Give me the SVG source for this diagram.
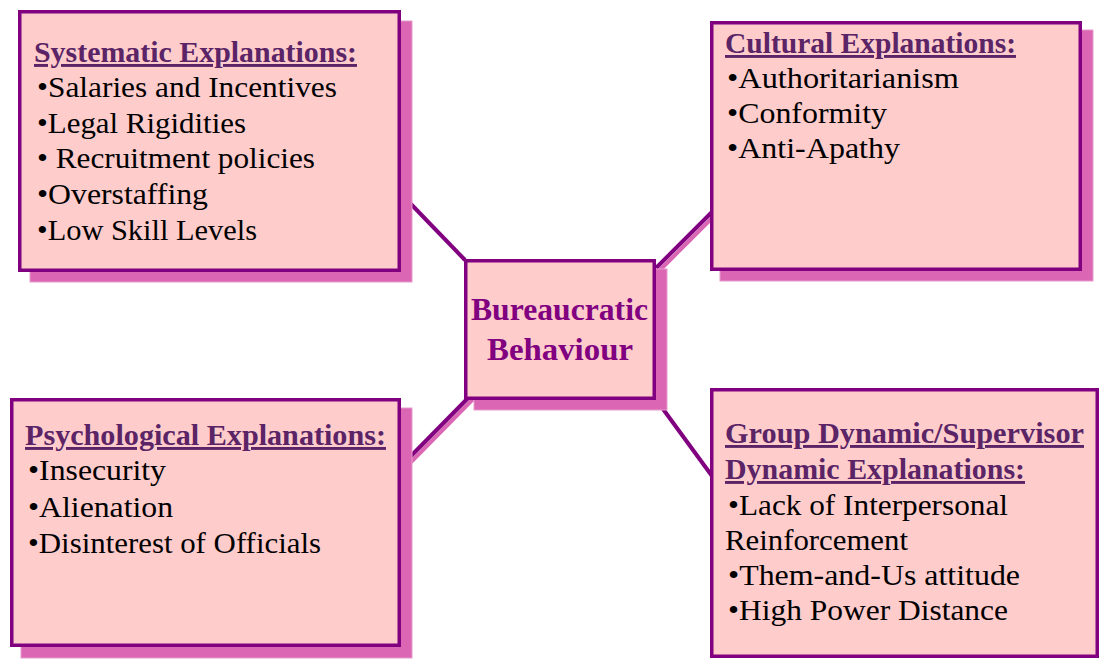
<svg xmlns="http://www.w3.org/2000/svg" width="1100" height="660" viewBox="0 0 1100 660">
<style>
.shadow{fill:#DA66B4;stroke:#E89ACB;stroke-width:1}
.box{fill:#FFCCCC;stroke:#800080;stroke-width:3.5}
.title{font-family:"Liberation Serif","Times New Roman",serif;font-size:29px;font-weight:bold;fill:#5A2466;text-decoration:underline}
.item{font-family:"Liberation Serif","Times New Roman",serif;font-size:30px;fill:#000}
.center{font-family:"Liberation Serif","Times New Roman",serif;font-size:32px;font-weight:bold;fill:#800080}
.conn{stroke:#800080;stroke-width:4;fill:none}
.connsh{stroke:#DA66B4;stroke-width:4;fill:none}
</style>
<rect width="1100" height="660" fill="#FFFFFF"/>
<g id="connectors">
  <line class="conn" x1="408" y1="201" x2="465" y2="260"/>
  <line class="connsh" x1="659" y1="271" x2="714" y2="216"/>
  <line class="conn" x1="656" y1="268" x2="712" y2="212"/>
  <line class="connsh" x1="411" y1="462" x2="477" y2="395"/>
  <line class="conn" x1="408" y1="459" x2="474" y2="392"/>
  <line class="conn" x1="663" y1="409" x2="712" y2="476"/>
</g>
<g id="systematic">
  <rect class="shadow" x="30" y="21" width="382" height="261"/>
  <rect class="box" x="19.75" y="11.75" width="379.5" height="258.5"/>
  <text class="title" x="34" y="62" textLength="323" lengthAdjust="spacingAndGlyphs">Systematic Explanations:</text>
  <text class="item" x="37" y="97" textLength="300" lengthAdjust="spacingAndGlyphs">•Salaries and Incentives</text>
  <text class="item" x="37" y="133" textLength="209" lengthAdjust="spacingAndGlyphs">•Legal Rigidities</text>
  <text class="item" x="37" y="168" textLength="278" lengthAdjust="spacingAndGlyphs">• Recruitment policies</text>
  <text class="item" x="37" y="204" textLength="171" lengthAdjust="spacingAndGlyphs">•Overstaffing</text>
  <text class="item" x="37" y="240" textLength="220" lengthAdjust="spacingAndGlyphs">•Low Skill Levels</text>
</g>
<g id="cultural">
  <rect class="shadow" x="720" y="30" width="373" height="251"/>
  <rect class="box" x="711.75" y="22.75" width="368.5" height="246.5"/>
  <text class="title" x="725" y="53" textLength="291" lengthAdjust="spacingAndGlyphs">Cultural Explanations:</text>
  <text class="item" x="727" y="88" textLength="232" lengthAdjust="spacingAndGlyphs">•Authoritarianism</text>
  <text class="item" x="727" y="123" textLength="160" lengthAdjust="spacingAndGlyphs">•Conformity</text>
  <text class="item" x="727" y="158" textLength="173" lengthAdjust="spacingAndGlyphs">•Anti-Apathy</text>
</g>
<g id="center">
  <rect class="shadow" x="474" y="269" width="193" height="141"/>
  <rect class="box" x="465.75" y="260.75" width="188.5" height="137.5"/>
  <text class="center" x="559.5" y="320" text-anchor="middle" textLength="177" lengthAdjust="spacingAndGlyphs">Bureaucratic</text>
  <text class="center" x="560" y="360" text-anchor="middle" textLength="146" lengthAdjust="spacingAndGlyphs">Behaviour</text>
</g>
<g id="psychological">
  <rect class="shadow" x="21" y="408" width="391" height="250"/>
  <rect class="box" x="11.75" y="399.75" width="387.5" height="245.5"/>
  <text class="title" x="25" y="445" textLength="361" lengthAdjust="spacingAndGlyphs">Psychological Explanations:</text>
  <text class="item" x="28" y="480" textLength="138" lengthAdjust="spacingAndGlyphs">•Insecurity</text>
  <text class="item" x="28" y="517" textLength="145" lengthAdjust="spacingAndGlyphs">•Alienation</text>
  <text class="item" x="28" y="553" textLength="293" lengthAdjust="spacingAndGlyphs">•Disinterest of Officials</text>
</g>
<g id="group">
  <rect class="box" x="711.75" y="389.75" width="385.5" height="266.5"/>
  <text class="title" x="725" y="443" textLength="359" lengthAdjust="spacingAndGlyphs">Group Dynamic/Supervisor</text>
  <text class="title" x="725" y="479" textLength="300" lengthAdjust="spacingAndGlyphs">Dynamic Explanations:</text>
  <text class="item" x="728" y="515" textLength="280" lengthAdjust="spacingAndGlyphs">•Lack of Interpersonal</text>
  <text class="item" x="725" y="550" textLength="183" lengthAdjust="spacingAndGlyphs">Reinforcement</text>
  <text class="item" x="728" y="585" textLength="292" lengthAdjust="spacingAndGlyphs">•Them-and-Us attitude</text>
  <text class="item" x="728" y="620" textLength="280" lengthAdjust="spacingAndGlyphs">•High Power Distance</text>
</g>
</svg>
